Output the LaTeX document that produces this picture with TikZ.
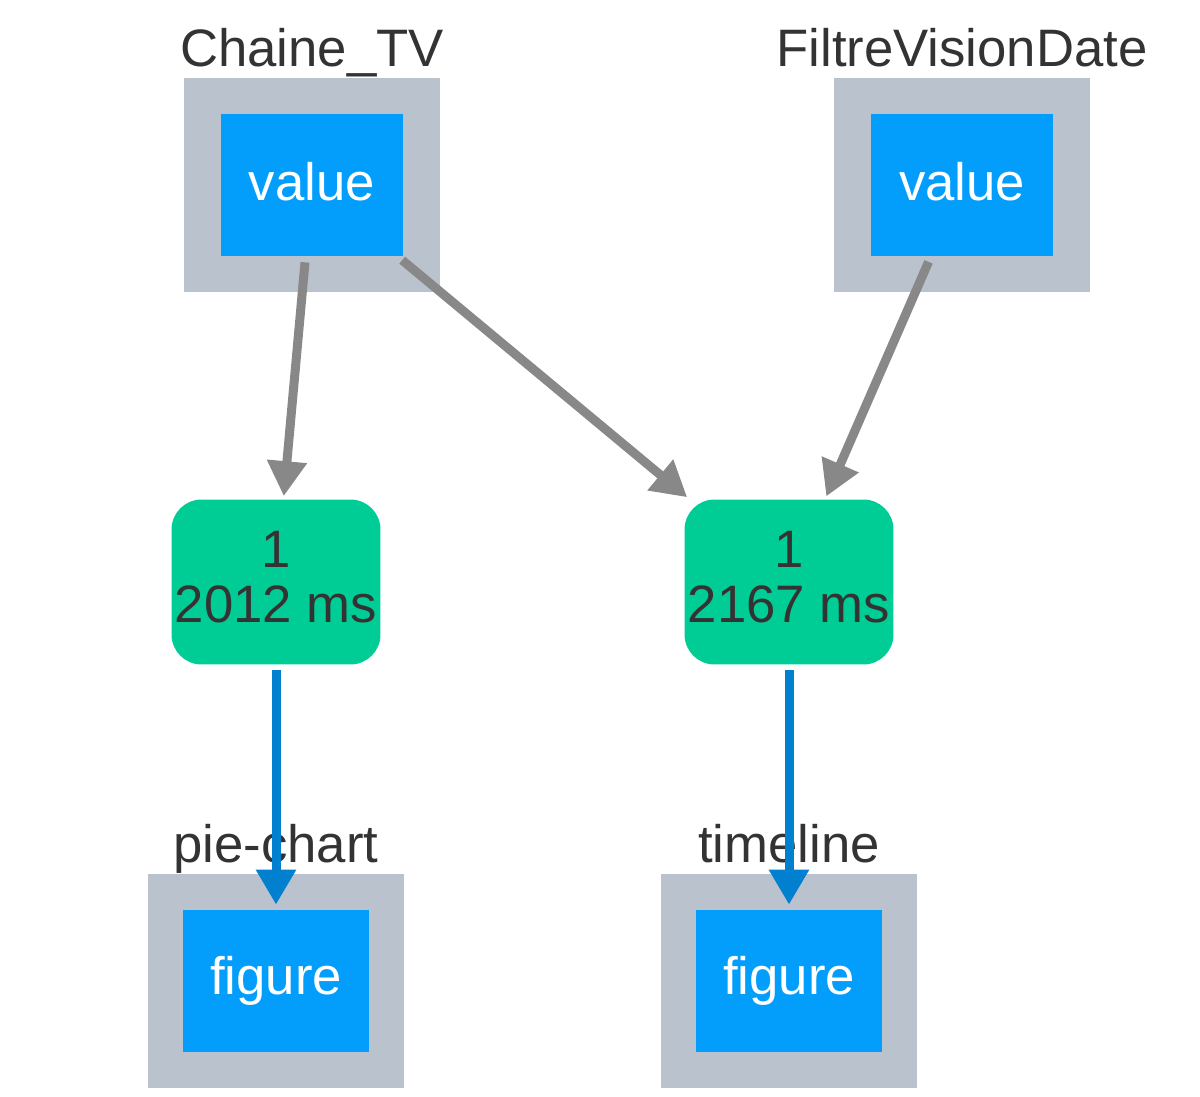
\documentclass[tikz,border=0pt]{standalone}
\usepackage{fontspec}
\setmainfont{Liberation Sans}
\usetikzlibrary{arrows.meta}

\definecolor{framegrey}{HTML}{BAC2CD}
\definecolor{portblue}{HTML}{039EFB}
\definecolor{cbkgreen}{HTML}{00CC96}
\definecolor{textdark}{HTML}{333333}
\definecolor{ingrey}{HTML}{888888}
\definecolor{outblue}{HTML}{0080CF}

\tikzset{
  frame/.style={fill=framegrey, minimum width=5.12cm, minimum height=4.28cm, inner sep=0},
  port/.style={fill=portblue, text=white, minimum width=3.66cm, minimum height=2.84cm, inner sep=0},
  cbk/.style={fill=cbkgreen, text=textdark, rounded corners=0.6cm, minimum width=4.18cm,
    minimum height=3.3cm, align=center, inner sep=0, text depth=0.2cm},
  title/.style={text=textdark, anchor=base, inner sep=0},
  inlink/.style={draw=ingrey, line width=0.18cm, -{Triangle[length=0.7cm,width=0.76cm]},
    shorten <=0.12cm, shorten >=0.06cm},
  outlink/.style={draw=outblue, line width=0.18cm, -{Triangle[length=0.7cm,width=0.76cm]},
    shorten <=0.1cm, shorten >=0.1cm}
}

\begin{document}
\begin{tikzpicture}[x=0.02cm, y=-0.02cm, every node/.style={font=\fontsize{30}{31}\selectfont}]
  \useasboundingbox (0,0) rectangle (1200,1096);
  % inputs
  \node[frame] (chainebox) at (312,185) {};
  \node[port, text depth=0.16cm] (chaine) at (312,185) {value};
  \node[frame] (filtrebox) at (962,185) {};
  \node[port, text depth=0.16cm] (filtre) at (962,185) {value};
  \node[title] (chainelbl) at (312,66) {Chaine\_TV};
  \node[title] (filtrelbl) at (962,66) {FiltreVisionDate};
  % callbacks
  \node[cbk] (cbpie) at (276,582) {1\\2012 ms};
  \node[cbk] (cbtime) at (789,582) {1\\2167 ms};
  % outputs
  \node[frame] (piebox) at (276,981) {};
  \node[port, minimum width=3.74cm] (pie) at (276,981) {figure};
  \node[frame] (timebox) at (789,981) {};
  \node[port, minimum width=3.74cm] (time) at (789,981) {figure};
  \node[title] (pielbl) at (276,862) {pie-chart};
  \node[title] (timelbl) at (789,862) {timeline};
  % links
  \draw[inlink] (chaine) -- (cbpie);
  \draw[inlink] (chaine) -- (cbtime);
  \draw[inlink] (filtre) -- (cbtime);
  \draw[outlink] (cbpie) -- (pie);
  \draw[outlink] (cbtime) -- (time);
\end{tikzpicture}
\end{document}
